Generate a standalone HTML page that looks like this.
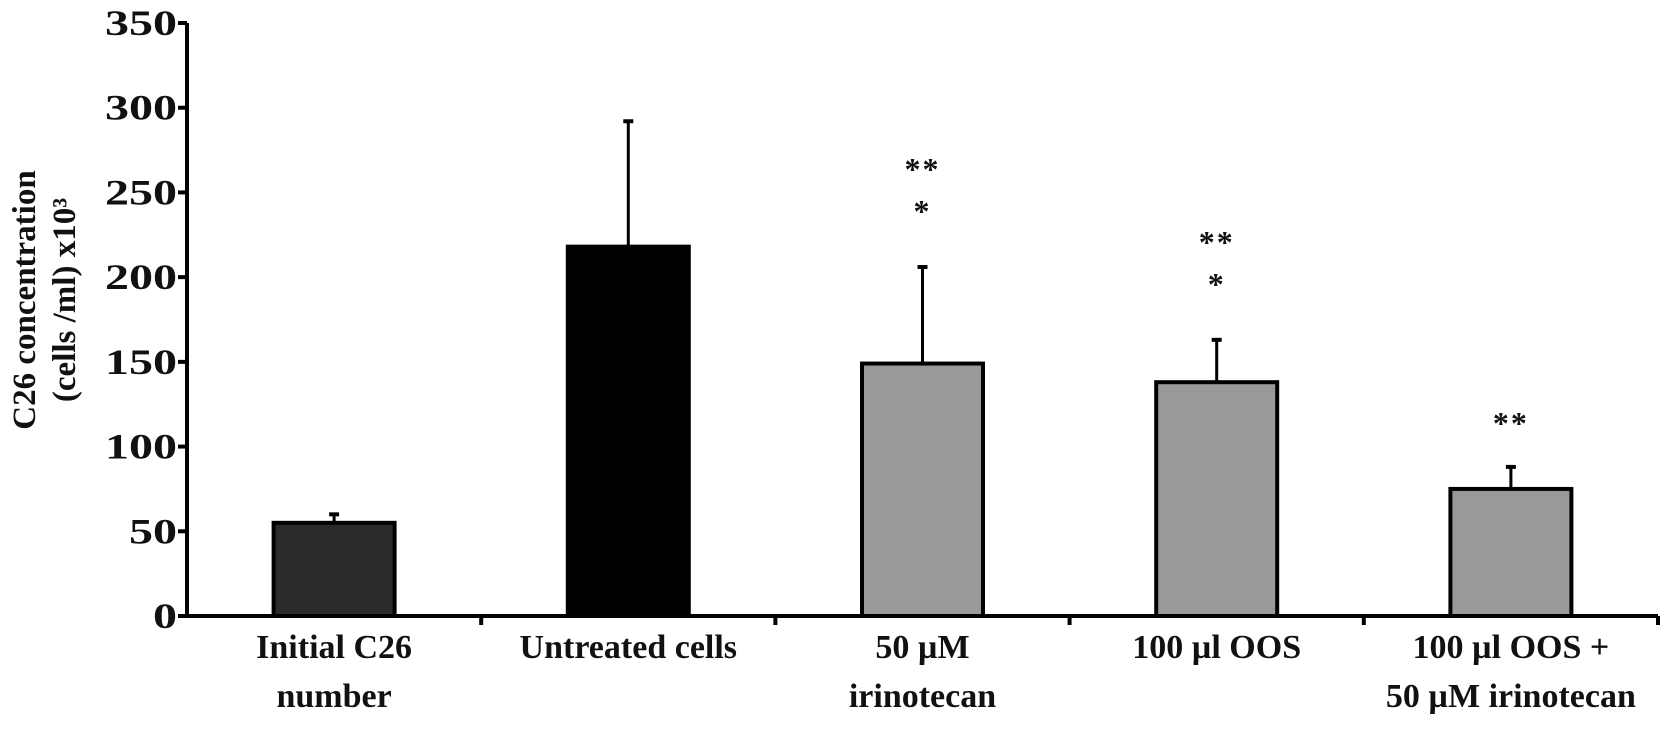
<!DOCTYPE html>
<html><head><meta charset="utf-8"><style>
html,body{margin:0;padding:0;background:#fff;}
svg text{font-family:"Liberation Serif",serif;font-weight:bold;fill:#111;}
</style></head><body>
<svg id="chart" width="1677" height="729" xmlns="http://www.w3.org/2000/svg"></svg>
<script>
const categories=[["Initial C26","number"],["Untreated cells"],["50 \u00b5M","irinotecan"],["100 \u00b5l OOS"],["100 \u00b5l OOS +","50 \u00b5M  irinotecan"]];
const values=[55,218,149,138,75];
const errors=[60,292,206,163,88];
const stars=[[],[],["**","*"],["**","*"],["**"]];
const yTicks=[0,50,100,150,200,250,300,350];
const fills=["#2b2b2b","#000000","#999999","#999999","#999999"];

const NS="http://www.w3.org/2000/svg";
const svg=document.getElementById('chart');
const X0=187,X1=1658,Y0=616,Y350=23;
const step=(X1-X0)/categories.length;
function y(v){return Y0-(v/350)*(Y0-Y350);}
function xc(i){return X0+step*(i+0.5);}
function mk(t,a,p){const e=document.createElementNS(NS,t);for(const k in a)e.setAttribute(k,a[k]);(p||svg).appendChild(e);return e;}

// y title
const title=mk('text',{'font-size':'33','text-anchor':'middle'});


const t1=mk('tspan',{x:0,y:0},title);t1.textContent='C26 concentration';
const t2=mk('tspan',{x:0,y:40},title);t2.textContent='(cells /ml) x10\u00b3';
title.setAttribute('transform','translate(35,300) rotate(-90)');

// bars
values.forEach((v,i)=>{
  const w=121,cx=xc(i);
  const b=mk('rect',{x:cx-w/2,y:y(v),width:w,height:Y0-y(v),fill:fills[i],stroke:'#000','stroke-width':4});
  
  
  const el=mk('line',{x1:cx,x2:cx,y1:y(v),y2:y(errors[i]),stroke:'#000','stroke-width':3});
  
  
  const cap=mk('line',{x1:cx-5,x2:cx+5,y1:y(errors[i]),y2:y(errors[i]),stroke:'#000','stroke-width':4});
  
  
  const n=stars[i].length;
  stars[i].forEach((s,j)=>{
    let off = n===1 ? 50 : (j===0 ? 104 : 62);
    const st=mk('text',{x:cx,y:y(errors[i])-off+17,'font-size':'32','text-anchor':'middle',fill:'#555','letter-spacing':'2'});
    
    
    st.textContent=s;
  });
  categories[i].forEach((line,j)=>{
    const t=mk('text',{x:cx,y:658+j*49,'font-size':'34','text-anchor':'middle'});
    
    
    t.textContent=line;
  });
});

// axes
const ya=mk('line',{x1:X0,x2:X0,y1:Y350,y2:Y0+2,stroke:'#000','stroke-width':4});


const xa=mk('line',{x1:X0-2,x2:X1,y1:Y0,y2:Y0,stroke:'#000','stroke-width':4});


yTicks.forEach(v=>{
  const tk=mk('line',{x1:X0-9,x2:X0,y1:y(v),y2:y(v),stroke:'#000','stroke-width':4});
  
  
  const s=String(v);
  const lb=mk('text',{x:X0-10,y:y(v)+12,'font-size':'36','text-anchor':'end',textLength:s.length*24,lengthAdjust:'spacingAndGlyphs'});
  
  
  lb.textContent=s;
});
for(let i=1;i<=categories.length;i++){
  const tk=mk('line',{x1:X0+step*i,x2:X0+step*i,y1:Y0,y2:Y0+9,stroke:'#000','stroke-width':4});
  
  
}
</script>
</body></html>
